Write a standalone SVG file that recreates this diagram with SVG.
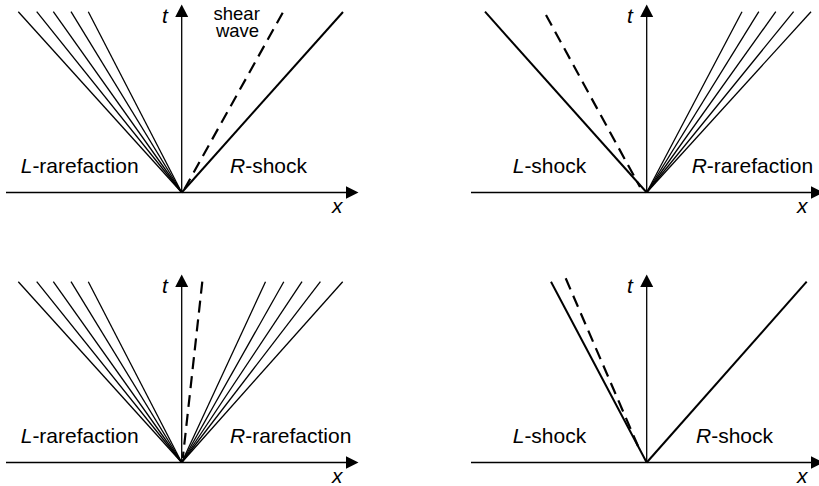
<svg xmlns="http://www.w3.org/2000/svg" xmlns:xlink="http://www.w3.org/1999/xlink" width="819" height="486" viewBox="0 0 819 486">
<style>
.axis{stroke:#000;stroke-width:1.3;fill:none}
.fan{stroke:#000;stroke-width:1.3;fill:none}
.shock{stroke:#000;stroke-width:2;fill:none}
.dash{stroke:#000;stroke-width:2.2;fill:none;stroke-dasharray:12 7}
.lbl{font-family:"Liberation Sans",Arial,Helvetica,sans-serif;font-size:21px;fill:#000}
.sw{font-family:"Liberation Sans",Arial,Helvetica,sans-serif;font-size:18.5px;fill:#000;text-anchor:middle}
.it{font-style:italic}
</style>
<defs>
<polygon id="arrR" points="0,0 -12.5,-6.3 -12.5,6.3" fill="#000"/>
<polygon id="arrU" points="0,0 -6.5,12.5 6.5,12.5" fill="#000"/>
<g id="axes">
<line class="axis" x1="6" y1="192.5" x2="348" y2="192.5"/>
<use xlink:href="#arrR" x="358.5" y="192.5"/>
<line class="axis" x1="181.7" y1="192.5" x2="181.7" y2="15"/>
<use xlink:href="#arrU" x="181.7" y="4.5"/>
<text class="lbl it" x="162" y="23">t</text>
<text class="lbl it" x="332" y="212.7">x</text>
</g>
</defs>

<g id="panel-top-left">
<use xlink:href="#axes"/>
<g id="tl-fan">
<line class="fan" x1="18.3" y1="11.7" x2="181.7" y2="192.5"/>
<line class="fan" x1="36.7" y1="11.7" x2="181.7" y2="192.5"/>
<line class="fan" x1="53.3" y1="11.7" x2="181.7" y2="192.5"/>
<line class="fan" x1="71" y1="11.7" x2="181.7" y2="192.5"/>
<line class="fan" x1="88.3" y1="11.7" x2="181.7" y2="192.5"/>
</g>
<line class="dash" x1="282.7" y1="12.7" x2="184.5" y2="189"/>
<line class="shock" x1="343" y1="12" x2="181.7" y2="192.5"/>
<text class="sw"><tspan x="236.7" y="19.5">shear</tspan><tspan x="237.5" y="37">wave</tspan></text>
<text class="lbl" x="20.7" y="172.5"><tspan class="it">L</tspan>-rarefaction</text>
<text class="lbl" x="230" y="172.5"><tspan class="it">R</tspan>-shock</text>
</g>

<g id="panel-top-right">
<use xlink:href="#axes" x="465"/>
<line class="shock" x1="485" y1="11.7" x2="646.7" y2="192.5"/>
<line class="dash" x1="546" y1="15" x2="640" y2="187"/>
<g id="tr-fan">
<line class="fan" x1="742" y1="11.7" x2="646.7" y2="192.5"/>
<line class="fan" x1="758.8" y1="11.7" x2="646.7" y2="192.5"/>
<line class="fan" x1="775.8" y1="11.7" x2="646.7" y2="192.5"/>
<line class="fan" x1="793.6" y1="11.7" x2="646.7" y2="192.5"/>
<line class="fan" x1="811" y1="11.7" x2="646.7" y2="192.5"/>
</g>
<text class="lbl" x="512.7" y="172.5"><tspan class="it">L</tspan>-shock</text>
<text class="lbl" x="691.7" y="172.5"><tspan class="it">R</tspan>-rarefaction</text>
</g>

<g id="panel-bottom-left">
<use xlink:href="#axes" y="270"/>
<g id="bl-fan-left">
<line class="fan" x1="18.3" y1="281.7" x2="181.7" y2="462.5"/>
<line class="fan" x1="36.7" y1="281.7" x2="181.7" y2="462.5"/>
<line class="fan" x1="53.3" y1="281.7" x2="181.7" y2="462.5"/>
<line class="fan" x1="71" y1="281.7" x2="181.7" y2="462.5"/>
<line class="fan" x1="88.3" y1="281.7" x2="181.7" y2="462.5"/>
</g>
<line class="dash" x1="202.3" y1="281.7" x2="182.8" y2="458"/>
<g id="bl-fan-right">
<line class="fan" x1="265.5" y1="281.7" x2="181.7" y2="462.5"/>
<line class="fan" x1="283.8" y1="281.7" x2="181.7" y2="462.5"/>
<line class="fan" x1="302" y1="281.7" x2="181.7" y2="462.5"/>
<line class="fan" x1="320.4" y1="281.7" x2="181.7" y2="462.5"/>
<line class="fan" x1="342.7" y1="281.7" x2="181.7" y2="462.5"/>
</g>
<text class="lbl" x="20.7" y="442.5"><tspan class="it">L</tspan>-rarefaction</text>
<text class="lbl" x="230" y="442.5"><tspan class="it">R</tspan>-rarefaction</text>
</g>

<g id="panel-bottom-right">
<use xlink:href="#axes" x="465" y="270"/>
<line class="shock" x1="551" y1="281.7" x2="646.7" y2="462.5"/>
<line class="dash" x1="565.7" y1="278.3" x2="638" y2="446"/>
<line class="shock" x1="806.7" y1="281.7" x2="646.7" y2="462.5"/>
<text class="lbl" x="512.7" y="442.5"><tspan class="it">L</tspan>-shock</text>
<text class="lbl" x="696" y="442.5"><tspan class="it">R</tspan>-shock</text>
</g>
</svg>
